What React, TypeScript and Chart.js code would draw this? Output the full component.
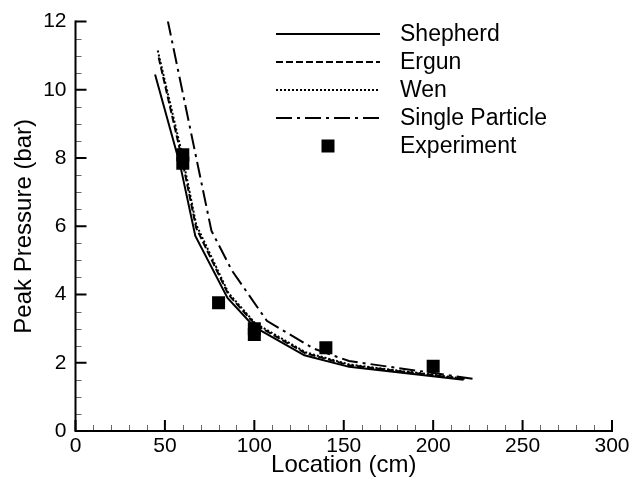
import { useEffect, useRef } from 'react';
import { Chart, registerables } from 'chart.js';

Chart.register(...registerables);

// ---- data ----
const shepherdX = [44.5, 58.5, 67, 85, 100, 128, 153, 217];
const shepherdY = [10.45, 7.8, 5.72, 3.9, 3.05, 2.22, 1.88, 1.5];
const ergunX = [46.5, 59, 67.5, 85.5, 100.5, 128.5, 153, 218];
const ergunY = [10.95, 8.1, 5.95, 4.0, 3.12, 2.28, 1.93, 1.52];
const wenX = [46, 59, 67.5, 85.5, 100.5, 128.5, 153, 218];
const wenY = [11.15, 8.25, 6.05, 4.05, 3.16, 2.31, 1.95, 1.53];
const singleX = [51.5, 76, 87.5, 107, 133, 153, 222.5];
const singleY = [12.05, 5.87, 4.7, 3.23, 2.42, 2.05, 1.53];
const expX = [60, 60, 80, 100, 100, 140, 200];
const expY = [8.1, 7.85, 3.76, 3.0, 2.83, 2.44, 1.9];

const xTickValues = [0, 50, 100, 150, 200, 250, 300];
const yTickValues = [0, 2, 4, 6, 8, 10, 12];
const xMinorStep = 10;
const yMinorStep = 0.5;

const seriesNames = ['Shepherd', 'Ergun', 'Wen', 'Single Particle', 'Experiment'];

const FONT = "'Liberation Sans', Arial, Helvetica, sans-serif";

const toPts = (xs: number[], ys: number[]) => xs.map((x, i) => ({ x, y: ys[i] }));

const dashes: Record<string, number[]> = {
  Shepherd: [],
  Ergun: [7, 3],
  Wen: [2, 2],
  'Single Particle': [16, 5, 3, 5],
};

const customAxes = {
  id: 'customAxes',
  afterDraw(chart: any) {
    const { ctx, chartArea: a, scales } = chart;
    const xs = scales.x;
    const ys = scales.y;
    ctx.save();
    // minor ticks
    ctx.lineWidth = 1;
    ctx.strokeStyle = '#666';
    ctx.beginPath();
    for (let v = 0; v <= 300 + 1e-6; v += xMinorStep) {
      if (xTickValues.includes(v)) continue;
      const px = Math.round(xs.getPixelForValue(v)) + 0.5;
      ctx.moveTo(px, a.bottom);
      ctx.lineTo(px, a.bottom - 6);
    }
    for (let v = 0; v <= 12 + 1e-6; v += yMinorStep) {
      if (yTickValues.includes(v)) continue;
      const py = Math.round(ys.getPixelForValue(v)) + 0.5;
      ctx.moveTo(a.left, py);
      ctx.lineTo(a.left + 6, py);
    }
    ctx.stroke();
    // major ticks
    ctx.lineWidth = 2;
    ctx.strokeStyle = '#000';
    ctx.beginPath();
    for (const v of xTickValues) {
      const px = xs.getPixelForValue(v);
      ctx.moveTo(px, a.bottom);
      ctx.lineTo(px, a.bottom - 11);
    }
    for (const v of yTickValues) {
      const py = ys.getPixelForValue(v);
      ctx.moveTo(a.left, py);
      ctx.lineTo(a.left + 11, py);
    }
    ctx.stroke();
    // axis lines
    ctx.beginPath();
    ctx.moveTo(a.left, a.top - 1);
    ctx.lineTo(a.left, a.bottom);
    ctx.lineTo(a.right + 1, a.bottom);
    ctx.stroke();

    // legend
    const lx0 = 276, lx1 = 380, tx = 400;
    const rowY = [34, 62, 90, 118, 146];
    ctx.font = `23px ${FONT}`;
    ctx.fillStyle = '#000';
    ctx.textBaseline = 'middle';
    ctx.textAlign = 'left';
    seriesNames.forEach((name, i) => {
      const y = rowY[i];
      if (name === 'Experiment') {
        ctx.fillRect(328 - 6.5, y - 6.5, 13, 13);
      } else {
        ctx.beginPath();
        ctx.setLineDash(dashes[name]);
        ctx.lineWidth = 2;
        ctx.moveTo(lx0, y);
        ctx.lineTo(lx1, y);
        ctx.stroke();
        ctx.setLineDash([]);
      }
      ctx.fillText(name, tx, y + 1);
    });
    ctx.restore();
  },
};

export default function App() {
  const ref = useRef<HTMLCanvasElement>(null);
  useEffect(() => {
    if (!ref.current) return;
    const lineDs = (label: string, xs: number[], ys: number[]) => ({
      label,
      type: 'scatter' as const,
      data: toPts(xs, ys),
      showLine: true,
      borderColor: '#000',
      backgroundColor: '#000',
      borderWidth: 2,
      borderDash: dashes[label],
      pointRadius: 0,
      tension: 0,
    });
    const chart = new Chart(ref.current, {
      type: 'scatter',
      data: {
        datasets: [
          lineDs('Shepherd', shepherdX, shepherdY),
          lineDs('Ergun', ergunX, ergunY),
          lineDs('Wen', wenX, wenY),
          lineDs('Single Particle', singleX, singleY),
          {
            label: 'Experiment',
            data: toPts(expX, expY),
            pointStyle: 'rect',
            pointRadius: 9.2,
            pointBorderWidth: 0,
            borderWidth: 0,
            backgroundColor: '#000',
            borderColor: '#000',
          } as any,
        ],
      },
      options: {
        responsive: false,
        animation: false,
        layout: { padding: { top: 19, right: 24, left: 0, bottom: 0 } },
        plugins: { legend: { display: false }, tooltip: { enabled: false } },
        scales: {
          x: {
            type: 'linear',
            min: 0,
            max: 300,
            grid: { display: false, drawTicks: false },
            border: { display: false },
            afterBuildTicks: (s: any) => {
              s.ticks = xTickValues.map((v) => ({ value: v }));
            },
            afterFit: (s: any) => {
              s.height = 53;
            },
            ticks: {
              color: '#000',
              font: { family: FONT, size: 21 },
              padding: 3,
              maxRotation: 0,
              autoSkip: false,
            },
            title: {
              display: true,
              text: 'Location (cm)',
              color: '#000',
              font: { family: FONT, size: 24 },
              padding: { top: 0, bottom: 4 },
            },
          },
          y: {
            type: 'linear',
            min: 0,
            max: 12,
            grid: { display: false, drawTicks: false },
            border: { display: false },
            afterBuildTicks: (s: any) => {
              s.ticks = yTickValues.map((v) => ({ value: v }));
            },
            afterFit: (s: any) => {
              s.width = 75.5;
            },
            ticks: {
              color: '#000',
              font: { family: FONT, size: 21 },
              padding: 9,
              autoSkip: false,
            },
            title: {
              display: true,
              text: 'Peak Pressure (bar)',
              color: '#000',
              font: { family: FONT, size: 24 },
              padding: { top: 10, bottom: 0 },
            },
          },
        },
      },
      plugins: [customAxes],
    });
    return () => chart.destroy();
  }, []);
  return (
    <div style={{ position: 'absolute', left: 0, top: 0, width: 636, height: 484, background: '#fff' }}>
      <canvas ref={ref} width={636} height={484} style={{ display: 'block' }} />
    </div>
  );
}
